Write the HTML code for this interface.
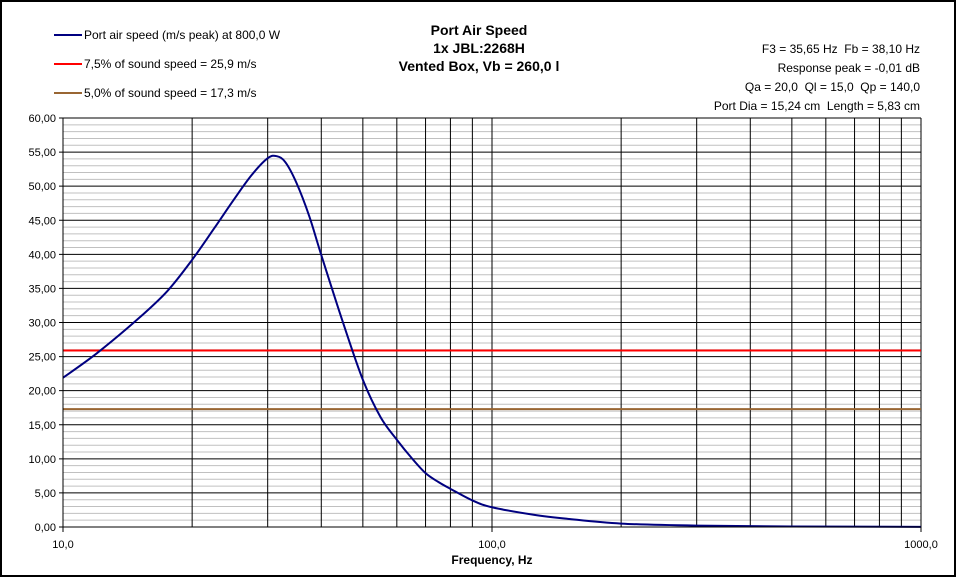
<!DOCTYPE html>
<html><head><meta charset="utf-8"><style>
html,body{margin:0;padding:0;background:#fff;}
svg{display:block;font-family:"Liberation Sans",Arial,sans-serif;}
text{white-space:pre;}
</style></head><body>
<svg id="chart" width="956" height="577" viewBox="0 0 956 577">
<rect x="1" y="1" width="954" height="575" fill="#fff" stroke="#000" stroke-width="2"/>
<g id="grid"></g>
<g id="series"></g>
<g id="axes"></g>
<g font-weight="bold" font-size="14" text-anchor="middle">
<text x="479" y="35">Port Air Speed</text>
<text x="479" y="53">1x JBL:2268H</text>
<text x="479" y="71">Vented Box, Vb = 260,0 l</text>
</g>
<g font-size="12" text-anchor="end">
<text x="920" y="53">F3 = 35,65 Hz&#160;&#160;Fb = 38,10 Hz</text>
<text x="920" y="72">Response peak = -0,01 dB</text>
<text x="920" y="91">Qa = 20,0&#160;&#160;Ql = 15,0&#160;&#160;Qp = 140,0</text>
<text x="920" y="110">Port Dia = 15,24 cm&#160;&#160;Length = 5,83 cm</text>
</g>
<g font-size="12">
<g><line x1="54" y1="35" x2="82" y2="35" stroke="#000080" stroke-width="2"/><text x="84" y="39">Port air speed (m/s peak) at 800,0 W</text></g>
<g><line x1="54" y1="64" x2="82" y2="64" stroke="#ff0000" stroke-width="2"/><text x="84" y="68">7,5% of sound speed = 25,9 m/s</text></g>
<g><line x1="54" y1="93" x2="82" y2="93" stroke="#996633" stroke-width="2"/><text x="84" y="97">5,0% of sound speed = 17,3 m/s</text></g>
</g>
<text x="492" y="564" font-size="12" font-weight="bold" text-anchor="middle">Frequency, Hz</text>
</svg>
<script>
const freqs = [10,12,15,17.5,20,22.5,25,27.5,30,31.5,33,35,37.5,40,45,50,55,60,65,70,75,80,90,100,125,150,200,300,500,1000];
const speeds = [21.9,25.5,30.6,34.6,39.2,43.8,48.0,51.6,54.1,54.4,53.5,50.5,45.6,39.9,29.9,21.6,16.1,12.8,10.1,7.9,6.6,5.6,3.9,2.9,1.8,1.2,0.5,0.2,0.08,0.02];
const refLines = [25.9,17.3];
const refColors = ["#ff0000","#996633"];
const yTicks = [0,5,10,15,20,25,30,35,40,45,50,55,60];
const xTickLabels = ["10,0","100,0","1000,0"];
const xTickValues = [10,100,1000];

const L=63,R=921,T=118,B=527;
const xs=f=>L+(Math.log10(f)-1)/2*(R-L);
const ys=v=>B-v/60*(B-T);
const NS="http://www.w3.org/2000/svg";
function mk(tag,attrs,parent){const e=document.createElementNS(NS,tag);for(const k in attrs)e.setAttribute(k,attrs[k]);parent.appendChild(e);return e;}
const grid=document.getElementById('grid'),series=document.getElementById('series'),axes=document.getElementById('axes');
for(let v=1;v<60;v++){if(v%5===0)continue;
 const l=mk('line',{x1:L,x2:R,y1:ys(v),y2:ys(v),stroke:'#c0c0c0','stroke-width':1},grid);
 
 }
for(const v of yTicks){const y=ys(v);
 const l=mk('line',{x1:L-4,x2:R,y1:y,y2:y,stroke:'#000','stroke-width':1},grid);
 
 
 const t=mk('text',{x:56,y:y+4,'font-size':11,'text-anchor':'end'},axes);
 t.textContent=v.toFixed(2).replace('.',',');
 
 }
for(let d=10;d<1000;d*=10){for(let m=1;m<=10;m++){const f=d*m;if(m===1&&d===10)continue;
 const l=mk('line',{x1:xs(f),x2:xs(f),y1:T,y2:B,stroke:'#000','stroke-width':1},grid);
 
 }}
const ax=mk('line',{x1:L,x2:L,y1:T,y2:B+1,stroke:'#000','stroke-width':1},axes);


const bx=mk('line',{x1:L,x2:R,y1:B,y2:B,stroke:'#000','stroke-width':1},axes);


xTickValues.forEach((f,i)=>{
 const tk=mk('line',{x1:xs(f),x2:xs(f),y1:B,y2:B+5,stroke:'#000'},axes);
 
 
 const t=mk('text',{x:xs(f),y:548,'font-size':11,'text-anchor':'middle'},axes);
 t.textContent=xTickLabels[i];
 
 });
refLines.forEach((v,i)=>{
 const l=mk('line',{x1:L,x2:R,y1:ys(v),y2:ys(v),stroke:refColors[i],'stroke-width':2},series);
 
 });
const pts=freqs.map((f,i)=>[xs(f),ys(speeds[i])]);
let d='M'+pts[0][0]+','+pts[0][1];
for(let i=0;i<pts.length-1;i++){const p0=pts[Math.max(0,i-1)],p1=pts[i],p2=pts[i+1],p3=pts[Math.min(pts.length-1,i+2)];
 d+=' C'+(p1[0]+(p2[0]-p0[0])/6)+','+(p1[1]+(p2[1]-p0[1])/6)+' '+(p2[0]-(p3[0]-p1[0])/6)+','+(p2[1]-(p3[1]-p1[1])/6)+' '+p2[0]+','+p2[1];}
const path=mk('path',{d:d,fill:'none',stroke:'#000080','stroke-width':2},series);


</script>
</body></html>
